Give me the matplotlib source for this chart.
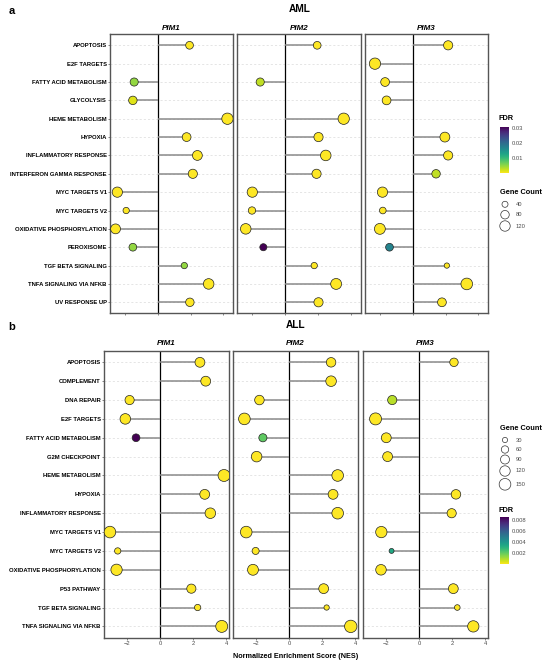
import numpy as np
import matplotlib
matplotlib.use("Agg")
import matplotlib.pyplot as plt
from matplotlib import cm, colors
from matplotlib.colorbar import ColorbarBase

plt.rcParams['font.family'] = ['Liberation Sans', 'DejaVu Sans']

nan = np.nan
genes = ["PIM1", "PIM2", "PIM3"]

# ---------------- AML data ----------------
aml_cats = ["APOPTOSIS", "E2F TARGETS", "FATTY ACID METABOLISM", "GLYCOLYSIS",
            "HEME METABOLISM", "HYPOXIA", "INFLAMMATORY RESPONSE",
            "INTERFERON GAMMA RESPONSE", "MYC TARGETS V1", "MYC TARGETS V2",
            "OXIDATIVE PHOSPHORYLATION", "PEROXISOME", "TGF BETA SIGNALING",
            "TNFA SIGNALING VIA NFKB", "UV RESPONSE UP"]
aml_pim1_nes = [1.94, nan, -1.45, -1.53, 4.26, 1.76, 2.42, 2.14, -2.48, -1.94, -2.59, -1.53, 1.62, 3.11, 1.96]
aml_pim1_count = [66, nan, 73, 79, 141, 85, 107, 93, 116, 44, 107, 66, 44, 123, 79]
aml_pim1_fdr = [0, nan, 0.005, 0.0015, 0, 0, 0, 0, 0, 0, 0, 0.005, 0.005, 0, 0]
aml_pim2_nes = [1.94, nan, -1.52, nan, 3.55, 2.02, 2.46, 1.90, -2.0, -2.02, -2.4, -1.33, 1.76, 3.09, 2.02]
aml_pim2_count = [66, nan, 73, nan, 141, 93, 123, 93, 116, 60, 123, 55, 44, 131, 93]
aml_pim2_fdr = [0, nan, 0.003, nan, 0, 0, 0, 0, 0, 0, 0, 0.031, 0, 0, 0]
aml_pim3_nes = [2.16, -2.32, -1.7, -1.61, nan, 1.96, 2.16, 1.42, -1.86, -1.84, -2.02, -1.43, 2.08, 3.3, 1.78]
aml_pim3_count = [93, 141, 85, 85, nan, 107, 93, 79, 116, 49, 131, 66, 31, 149, 85]
aml_pim3_fdr = [0, 0, 0, 0, nan, 0, 0, 0.003, 0, 0, 0, 0.017, 0, 0, 0]
aml_fdr_ticks = [0.01, 0.02, 0.03]
aml_size_breaks = [40, 80, 120]

# ---------------- ALL data ----------------
all_cats = ["APOPTOSIS", "COMPLEMENT", "DNA REPAIR", "E2F TARGETS",
            "FATTY ACID METABOLISM", "G2M CHECKPOINT", "HEME METABOLISM",
            "HYPOXIA", "INFLAMMATORY RESPONSE", "MYC TARGETS V1",
            "MYC TARGETS V2", "OXIDATIVE PHOSPHORYLATION", "P53 PATHWAY",
            "TGF BETA SIGNALING", "TNFA SIGNALING VIA NFKB"]
all_pim1_nes = [2.42, 2.77, -1.84, -2.1, -1.45, nan, 3.88, 2.71, 3.05, -3.03, -2.56, -2.63, 1.9, 2.28, 3.74]
all_pim1_count = [107, 107, 93, 123, 66, nan, 158, 107, 123, 149, 44, 141, 93, 44, 158]
all_pim1_fdr = [0, 0, 0, 0, 0.0085, nan, 0, 0, 0, 0, 0, 0, 0, 0, 0]
all_pim2_nes = [2.55, 2.55, -1.79, -2.7, -1.58, -1.96, 2.95, 2.67, 2.95, -2.59, -2.02, -2.18, 2.1, 2.28, 3.74]
all_pim2_count = [100, 123, 100, 149, 73, 123, 149, 107, 149, 149, 55, 131, 107, 31, 169]
all_pim2_fdr = [0, 0, 0, 0, 0.0021, 0, 0, 0, 0, 0, 0, 0, 0, 0, 0]
all_pim3_nes = [2.12, nan, -1.62, -2.63, -1.98, -1.9, nan, 2.24, 1.98, -2.28, -1.66, -2.30, 2.08, 2.32, 3.29]
all_pim3_count = [79, nan, 93, 158, 107, 107, nan, 100, 93, 141, 27, 123, 107, 35, 141]
all_pim3_fdr = [0, nan, 0.0009, 0, 0, 0, nan, 0, 0, 0, 0.0034, 0, 0, 0, 0]
all_fdr_ticks = [0.002, 0.004, 0.006, 0.008]
all_size_breaks = [30, 60, 90, 120, 150]
x_ticks = [-2, 0, 2, 4]

W, H = 550, 668
fig = plt.figure(figsize=(W / 100, H / 100), dpi=100)


def px_axes(x0, y0, x1, y1):
    return fig.add_axes([x0 / W, 1 - y1 / H, (x1 - x0) / W, (y1 - y0) / H])


def ftext(x, y, s, **kw):
    fig.text(x / W, 1 - y / H, s, **kw)


def msize(c):
    return 0.47 * np.asarray(c, dtype=float)


cmap = plt.get_cmap('viridis_r')


def draw_block(cats, nes_list, cnt_list, fdr_list, panel_x, y0, y1, xlim, vmax,
               show_xlabels):
    norm = colors.Normalize(0, vmax)
    n = len(cats)
    ypos = np.arange(n)
    axes = []
    for i, (g, nes, cnt, fdr) in enumerate(zip(genes, nes_list, cnt_list, fdr_list)):
        ax = px_axes(panel_x[i][0], y0, panel_x[i][1], y1)
        nes = np.array(nes, float)
        cnt = np.array(cnt, float)
        fdr = np.array(fdr, float)
        for y in ypos:
            ax.axhline(y, color='#dadada', lw=0.5, ls=(0, (3, 3)), zorder=0)
        ax.axvline(0, color='black', lw=0.9, zorder=1)
        ok = ~np.isnan(nes)
        ax.hlines(ypos[ok], 0, nes[ok], color='#8a8a8a', lw=1.1, zorder=2)
        ax.scatter(nes[ok], ypos[ok], s=msize(cnt[ok]), c=cmap(norm(fdr[ok])),
                   edgecolors='#222222', linewidths=0.5, zorder=3)
        ax.set_xlim(*xlim)
        ax.set_ylim(n - 0.4, -0.6)
        for sp in ax.spines.values():
            sp.set_color('#555555')
            sp.set_linewidth(1.0)
        ax.set_xticks(x_ticks)
        ax.tick_params(axis='x', length=1.5, width=0.5, color='#555555',
                       labelsize=4.2, labelcolor='#4d4d4d', pad=1,
                       labelbottom=show_xlabels)
        ax.set_yticks(ypos)
        if i == 0:
            ax.set_yticklabels(cats, fontsize=4.2, fontweight='bold')
            ax.tick_params(axis='y', length=1.5, width=0.5, color='#555555', pad=1)
        else:
            ax.tick_params(axis='y', length=0, labelleft=False)
        ax.set_facecolor('white')
        axes.append(ax)
    return axes


# ---------------- Panel a ----------------
aml_px = [(110, 233), (237, 361), (365, 488)]
axa = draw_block(aml_cats, [aml_pim1_nes, aml_pim2_nes, aml_pim3_nes],
                 [aml_pim1_count, aml_pim2_count, aml_pim3_count],
                 [aml_pim1_fdr, aml_pim2_fdr, aml_pim3_fdr],
                 aml_px, 34.3, 313.3, (-2.93, 4.6), 0.031, False)
ftext(12, 11.5, 'a', fontsize=8, fontweight='bold', ha='center', va='center')
ftext(299.5, 9, 'AML', fontsize=7.3, fontweight='bold', ha='center', va='center')
for (x0, x1), g in zip(aml_px, genes):
    ftext((x0 + x1) / 2, 28, g, fontsize=5.8, fontweight='bold', style='italic',
          ha='center', va='center')

# ---------------- Panel b ----------------
all_px = [(104, 229), (233, 358), (363, 488)]
axb = draw_block(all_cats, [all_pim1_nes, all_pim2_nes, all_pim3_nes],
                 [all_pim1_count, all_pim2_count, all_pim3_count],
                 [all_pim1_fdr, all_pim2_fdr, all_pim3_fdr],
                 all_px, 351, 637.7, (-3.39, 4.18), 0.0085, True)
ftext(12, 327, 'b', fontsize=8, fontweight='bold', ha='center', va='center')
ftext(296, 325, 'ALL', fontsize=7.3, fontweight='bold', ha='center', va='center')
for (x0, x1), g in zip(all_px, genes):
    ftext((x0 + x1) / 2, 343.7, g, fontsize=5.8, fontweight='bold', style='italic',
          ha='center', va='center')
ftext(296, 656.5, 'Normalized Enrichment Score (NES)', fontsize=5.2, fontweight='bold',
      ha='center', va='center')


# ---------------- Legends ----------------
def colorbar(y_title, y0, y1, vmax, ticks):
    ftext(498.5, y_title, 'FDR', fontsize=5.3, fontweight='bold', ha='left', va='center')
    cax = px_axes(500, y0, 508.7, y1)
    cb = ColorbarBase(cax, cmap=cmap, norm=colors.Normalize(0, vmax),
                      orientation='vertical', ticks=ticks)
    cb.outline.set_visible(False)
    cax.tick_params(length=0, labelsize=4.2, labelcolor='#4d4d4d', pad=2.5)
    cax.set_yticklabels([f'{t:g}' for t in ticks])


def size_legend(y_title, breaks, ys):
    ftext(499.5, y_title, 'Gene Count', fontsize=5.3, fontweight='bold', ha='left', va='center')
    lax = px_axes(495, ys[0] - 8, 545, ys[-1] + 8)
    lax.set_xlim(495, 545)
    lax.set_ylim(ys[-1] + 8, ys[0] - 8)
    lax.axis('off')
    lax.scatter([505] * len(breaks), ys, s=msize(breaks), facecolors='white',
                edgecolors='#333333', linewidths=0.5)
    for b, y in zip(breaks, ys):
        lax.text(516, y, str(b), fontsize=4.2, color='#4d4d4d', va='center', ha='left')


colorbar(118, 126.7, 173.3, 0.031, aml_fdr_ticks)
size_legend(192, aml_size_breaks, [204.3, 214.7, 226])
size_legend(429, all_size_breaks, [440, 449.5, 459.5, 471, 484.3])
colorbar(510, 517.3, 564.3, 0.0085, all_fdr_ticks)

fig.savefig('out.png', dpi=100, facecolor='white')
